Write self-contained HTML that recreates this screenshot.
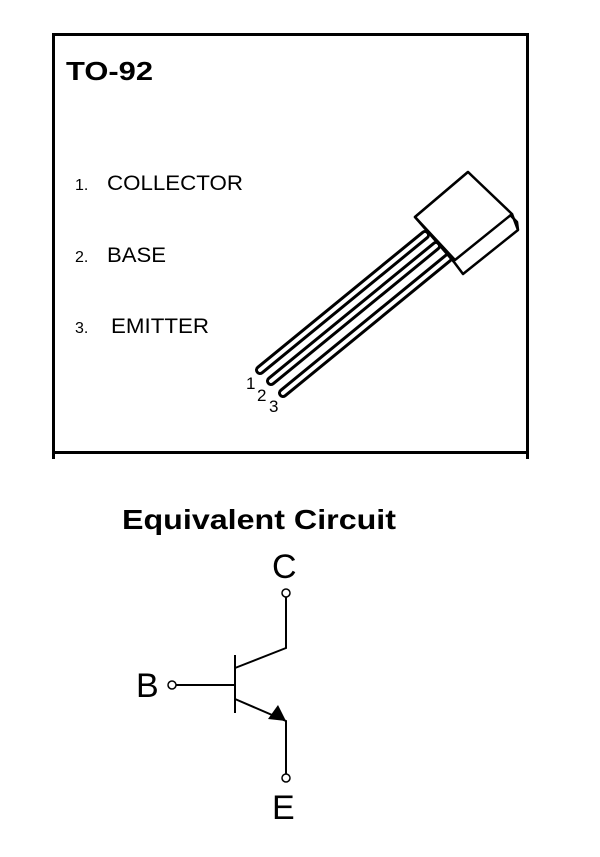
<!DOCTYPE html>
<html><head><style>
html,body{margin:0;padding:0;background:#fff;width:600px;height:857px;overflow:hidden}
svg{display:block}
text{font-family:"Liberation Sans",Arial,sans-serif;fill:#000}
</style></head><body>
<svg width="600" height="857" viewBox="0 0 600 857">
<rect x="53.5" y="34.5" width="474" height="418" fill="none" stroke="#000" stroke-width="3"/>
<line x1="53.5" y1="452" x2="53.5" y2="459" stroke="#000" stroke-width="3"/>
<line x1="527.5" y1="452" x2="527.5" y2="459" stroke="#000" stroke-width="3"/>
<text x="66" y="80" font-size="26" font-weight="bold" textLength="87" lengthAdjust="spacingAndGlyphs">TO-92</text>
<text x="75" y="190" font-size="16">1.</text><text x="107" y="190" font-size="21" textLength="136" lengthAdjust="spacingAndGlyphs">COLLECTOR</text>
<text x="75" y="262" font-size="16">2.</text><text x="107" y="262" font-size="21" textLength="59" lengthAdjust="spacingAndGlyphs">BASE</text>
<text x="75" y="333" font-size="16">3.</text><text x="111" y="333" font-size="21" textLength="98" lengthAdjust="spacingAndGlyphs">EMITTER</text>
<g stroke-linecap="round" fill="none">
<line x1="260" y1="370" x2="425" y2="235" stroke="#000" stroke-width="10"/>
<line x1="260" y1="370" x2="425" y2="235" stroke="#fff" stroke-width="4"/>
<line x1="271" y1="381" x2="436" y2="246" stroke="#000" stroke-width="10"/>
<line x1="271" y1="381" x2="436" y2="246" stroke="#fff" stroke-width="4"/>
<line x1="283" y1="393" x2="448" y2="258" stroke="#000" stroke-width="10"/>
<line x1="283" y1="393" x2="448" y2="258" stroke="#fff" stroke-width="4"/>
</g>
<g stroke="#000" stroke-width="2.5" fill="#fff" stroke-linejoin="round">
<polygon points="415,217 468,172 517,222 518,230 463,274 454,262"/>
<polygon points="415,217 468,172 512,214 455,260"/>
<line x1="512" y1="214" x2="518" y2="230"/>
</g>
<text x="246" y="389" font-size="17">1</text>
<text x="257" y="401" font-size="17">2</text>
<text x="269" y="412" font-size="17">3</text>

<text x="122" y="529" font-size="28" font-weight="bold" textLength="274" lengthAdjust="spacingAndGlyphs">Equivalent  Circuit</text>
<text x="272" y="578" font-size="34">C</text>
<text x="136" y="697" font-size="34">B</text>
<text x="272" y="819" font-size="34">E</text>
<g stroke="#000" stroke-width="2" fill="none">
<circle cx="286" cy="593" r="4" stroke-width="1.5"/>
<polyline points="286,597 286,648 235,668"/>
<line x1="235" y1="655" x2="235" y2="713"/>
<circle cx="172" cy="685" r="4" stroke-width="1.5"/>
<line x1="176" y1="685" x2="235" y2="685"/>
<polyline points="235,699 286,721 286,774"/>
<circle cx="286" cy="778" r="4" stroke-width="1.5"/>
</g>
<polygon points="286,721 268,719 278,705" fill="#000"/>
</svg>
</body></html>
